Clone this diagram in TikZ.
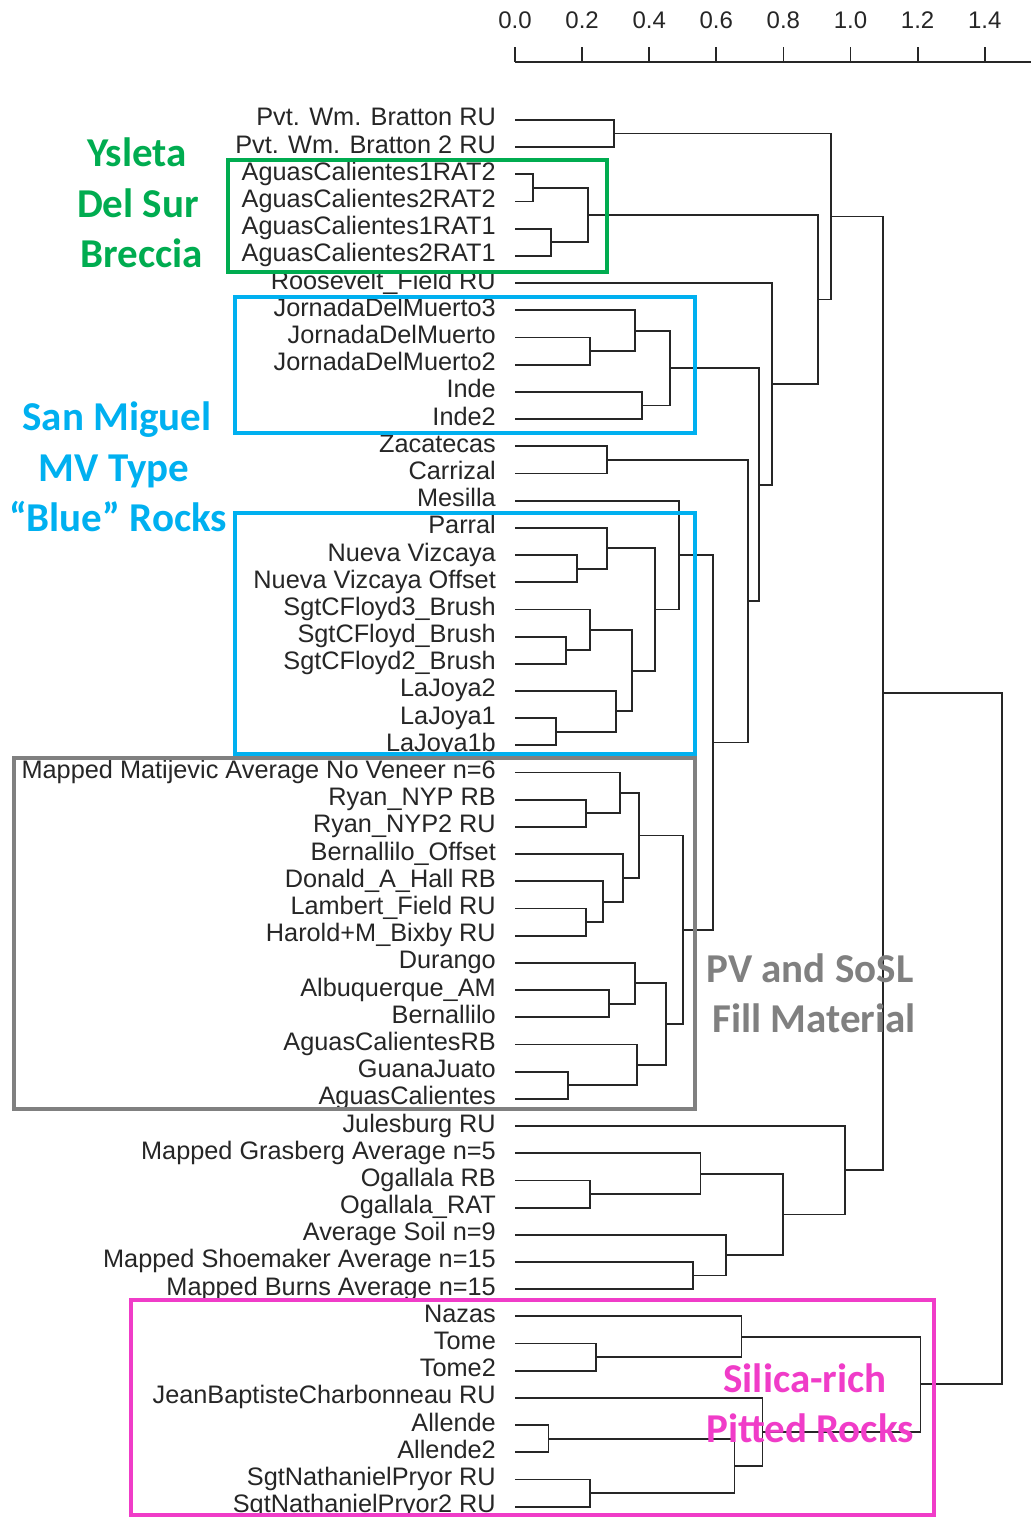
\documentclass[tikz,border=0pt]{standalone}
\usepackage{fontspec}
\setmainfont{Liberation Sans}
\newfontfamily\annfont{Carlito}
\usetikzlibrary{calc}
\definecolor{ysgreen}{RGB}{0,172,80}
\definecolor{smblue}{RGB}{0,176,240}
\definecolor{pvgray}{RGB}{128,128,128}
\definecolor{srpink}{RGB}{240,60,200}
\newcommand\mergept[4]{%
  \coordinate (tmpmid) at ($(#3)!0.5!(#4)$);
  \coordinate (tmpx) at (#2,0);
  \coordinate (#1) at (tmpmid -| tmpx);
  \draw[dend] (#3) -| (#1) |- (#4);
}
\begin{document}
\begin{tikzpicture}[x=1pt,y=-1pt,
  dend/.style={line width=1.8pt,black!85},
  leaflab/.style={anchor=base east,inner sep=0pt,text=black!85,font=\fontsize{25.3}{25.3}\selectfont},
  axlab/.style={anchor=base,inner sep=0pt,text=black!85,font=\fontsize{24}{24}\selectfont},
  grp/.style={line width=4pt},
  ann/.style={anchor=base,inner sep=0pt,font=\annfont\bfseries\fontsize{41}{41}\selectfont}]
\fill[white] (0,0) rectangle (1031,1517);
\useasboundingbox (0,0) rectangle (1031,1517);
% axis
\foreach \v [count=\k from 0] in {0.0,0.2,0.4,0.6,0.8,1.0,1.2,1.4}{
  \coordinate (tk\k) at ({515+\k*67.1},62);
  \coordinate (tt\k) at ({515+\k*67.1},47);
  \draw[dend] (tk\k) -- (tt\k);
  \node[axlab] (ax\k) at ({515+\k*67.1},29) {\v};
}
\coordinate (axend) at (1031,62);
\draw[dend] (tk0) -- (axend);
% leaves
\foreach \lab [count=\i] in {Pvt. Wm. Bratton RU,Pvt. Wm. Bratton 2 RU,AguasCalientes1RAT2,AguasCalientes2RAT2,AguasCalientes1RAT1,AguasCalientes2RAT1,Roosevelt\_Field RU,JornadaDelMuerto3,JornadaDelMuerto,JornadaDelMuerto2,Inde,Inde2,Zacatecas,Carrizal,Mesilla,Parral,Nueva Vizcaya,Nueva Vizcaya Offset,SgtCFloyd3\_Brush,SgtCFloyd\_Brush,SgtCFloyd2\_Brush,LaJoya2,LaJoya1,LaJoya1b,Mapped Matijevic Average No Veneer n=6,Ryan\_NYP RB,Ryan\_NYP2 RU,Bernallilo\_Offset,Donald\_A\_Hall RB,Lambert\_Field RU,Harold+M\_Bixby RU,Durango,Albuquerque\_AM,Bernallilo,AguasCalientesRB,GuanaJuato,AguasCalientes,Julesburg RU,Mapped Grasberg Average n=5,Ogallala RB,Ogallala\_RAT,Average Soil n=9,Mapped Shoemaker Average n=15,Mapped Burns Average n=15,Nazas,Tome,Tome2,JeanBaptisteCharbonneau RU,Allende,Allende2,SgtNathanielPryor RU,SgtNathanielPryor2 RU}{
  \node[leaflab] (t\i) at (496,{120+(\i-1)*27.19+6}) {\lab};
  \coordinate (l\i) at (515,{120+(\i-1)*27.19});
}
% merges
\mergept{m1}{614}{l1}{l2}
\mergept{m2}{533}{l3}{l4}
\mergept{m3}{551}{l5}{l6}
\mergept{m4}{587.7}{m2}{m3}
\mergept{m5}{590}{l9}{l10}
\mergept{m6}{635}{l8}{m5}
\mergept{m7}{642.3}{l11}{l12}
\mergept{m8}{670}{m6}{m7}
\mergept{m9}{607.3}{l13}{l14}
\mergept{m10}{577.3}{l17}{l18}
\mergept{m11}{606.7}{l16}{m10}
\mergept{m12}{566}{l20}{l21}
\mergept{m13}{590}{l19}{m12}
\mergept{m14}{556}{l23}{l24}
\mergept{m15}{616}{l22}{m14}
\mergept{m16}{631.7}{m13}{m15}
\mergept{m17}{655}{m11}{m16}
\mergept{m18}{679}{l15}{m17}
\mergept{m19}{585.7}{l26}{l27}
\mergept{m20}{620}{l25}{m19}
\mergept{m21}{585.7}{l30}{l31}
\mergept{m22}{602.7}{l29}{m21}
\mergept{m23}{622.7}{l28}{m22}
\mergept{m24}{639.3}{m20}{m23}
\mergept{m25}{609.3}{l33}{l34}
\mergept{m26}{635}{l32}{m25}
\mergept{m27}{568.3}{l36}{l37}
\mergept{m28}{637.3}{l35}{m27}
\mergept{m29}{665.7}{m26}{m28}
\mergept{m30}{683.3}{m24}{m29}
\mergept{m31}{713.3}{m18}{m30}
\mergept{m32}{748.3}{m9}{m31}
\mergept{m33}{759}{m8}{m32}
\mergept{m34}{772.3}{l7}{m33}
\mergept{m35}{818.3}{m4}{m34}
\mergept{m36}{830.7}{m1}{m35}
\mergept{m37}{589.8}{l40}{l41}
\mergept{m38}{700.4}{l39}{m37}
\mergept{m39}{693.3}{l43}{l44}
\mergept{m40}{725.6}{l42}{m39}
\mergept{m41}{782.7}{m38}{m40}
\mergept{m42}{845}{l38}{m41}
\mergept{m43}{882.7}{m36}{m42}
\mergept{m44}{595.8}{l46}{l47}
\mergept{m45}{741.4}{l45}{m44}
\mergept{m46}{548.4}{l49}{l50}
\mergept{m47}{589.8}{l51}{l52}
\mergept{m48}{734.4}{m46}{m47}
\mergept{m49}{762.5}{l48}{m48}
\mergept{m50}{920.4}{m45}{m49}
\mergept{m51}{1001.7}{m43}{m50}
% group boxes
\draw[grp,ysgreen] (228,160) rectangle (607,272);
\draw[grp,smblue] (235,297) rectangle (695,433);
\draw[grp,smblue] (235,513) rectangle (695,754);
\draw[grp,pvgray] (14,758) rectangle (695,1109);
\draw[grp,srpink] (131,1300) rectangle (934,1515);
% annotations
\node[ann,text=ysgreen] (ys1) at (137,167) {Ysleta};
\node[ann,text=ysgreen] (ys2) at (138,217) {Del Sur};
\node[ann,text=ysgreen] (ys3) at (142,267) {Breccia};
\node[ann,text=smblue] (sm1) at (117,430) {San Miguel};
\node[ann,text=smblue] (sm2) at (114,481) {MV Type};
\node[ann,text=smblue] (sm3) at (118,531) {“Blue” Rocks};
\node[ann,text=pvgray] (pv1) at (810,982) {PV and SoSL};
\node[ann,text=pvgray] (pv2) at (814,1032) {Fill Material};
\node[ann,text=srpink] (sr1) at (805,1392) {Silica-rich};
\node[ann,text=srpink] (sr2) at (810,1442) {Pitted Rocks};
\end{tikzpicture}
\end{document}
